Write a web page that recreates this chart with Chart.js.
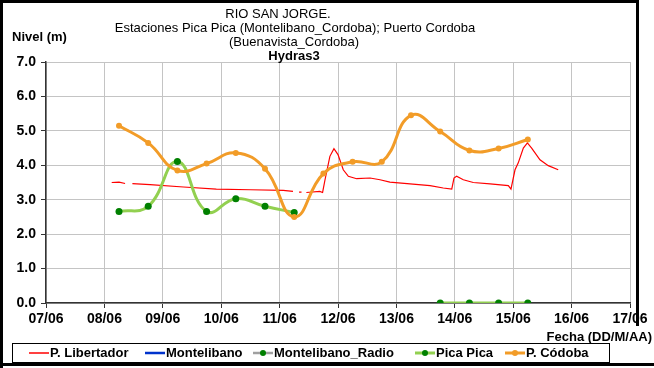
<!DOCTYPE html>
<html>
<head>
<meta charset="utf-8">
<script src="https://cdn.jsdelivr.net/npm/chart.js@4.4.1/dist/chart.umd.min.js"></script>
<style>
  html, body { margin: 0; padding: 0; background: #fff; }
  #wrap { width: 654px; height: 368px; }
</style>
</head>
<body>
<div id="wrap"><canvas id="chartCanvas" width="654" height="368"></canvas></div>
<script>
// Niveles del Rio San Jorge, fechas 'DD/MM HH:MM'
const dayLabels = ['07/06', '08/06', '09/06', '10/06', '11/06', '12/06', '13/06', '14/06', '15/06', '16/06', '17/06'];

// lecturas de 6:00 y 18:00
const dailyTimes = ['08/06 06:00', '08/06 18:00', '09/06 06:00', '09/06 18:00', '10/06 06:00',
  '10/06 18:00', '11/06 06:00', '11/06 18:00', '12/06 06:00', '12/06 18:00', '13/06 06:00',
  '13/06 18:00', '14/06 06:00', '14/06 18:00', '15/06 06:00'];
const cordobaLevels = [5.15, 4.65, 3.85, 4.05, 4.36, 3.90, 2.50, 3.76, 4.10, 4.10, 5.45, 4.98, 4.43, 4.49, 4.75];
const picaPicaLevels = [2.66, 2.81, 4.11, 2.66, 3.03, 2.81, 2.63, null, null, null, null, 0, 0, 0, 0];

// estacion automatica P. Libertador
const libertadorTimes = ['08/06 03:00', '08/06 06:00', '08/06 08:30', '08/06 10:00', '08/06 11:30',
  '08/06 18:45', '09/06 08:30', '09/06 22:00', '10/06 12:00', '11/06 01:30', '11/06 05:30',
  '11/06 07:00', '11/06 08:00', '11/06 09:00', '11/06 10:00', '11/06 11:00', '11/06 16:30',
  '11/06 17:40', '11/06 18:40', '11/06 20:40', '11/06 22:20', '12/06 00:00', '12/06 02:10',
  '12/06 04:15', '12/06 07:40', '12/06 13:10', '12/06 17:15', '12/06 21:20', '13/06 05:35',
  '13/06 13:50', '13/06 19:15', '13/06 22:45', '13/06 23:40', '14/06 00:45', '14/06 03:30',
  '14/06 07:35', '14/06 14:30', '14/06 22:00', '14/06 23:05', '15/06 00:45', '15/06 02:05',
  '15/06 04:10', '15/06 05:50', '15/06 07:35', '15/06 11:00', '15/06 14:25', '15/06 18:30'];
const libertadorLevels = [3.50, 3.51, 3.47, null, 3.47,
  3.44, 3.37, 3.31, 3.29, 3.27, 3.24,
  null, 3.22, 3.22, null, 3.21, 3.24,
  3.21, 3.58, 4.26, 4.48, 4.31, 3.87,
  3.68, 3.61, 3.63, 3.58, 3.51, 3.46,
  3.41, 3.34, 3.31, 3.63, 3.68, 3.58,
  3.50, 3.46, 3.41, 3.31, 3.87, 4.07,
  4.50, 4.65, 4.50, 4.16, 3.99, 3.87];

const yTicks = [0, 1, 2, 3, 4, 5, 6, 7];

// dias transcurridos desde 07/06 00:00
function toDays(s) {
  const [date, time] = s.split(' ');
  const [h, m] = time.split(':').map(Number);
  return Number(date.split('/')[0]) - 7 + (h + m / 60) / 24;
}

function points(times, levels) {
  return times.map((t, i) => ({ x: toDays(t), y: levels[i] }));
}

const FONT = 'Liberation Sans, Arial, sans-serif';

const decor = {
  id: 'decor',
  afterDraw(chart) {
    const ctx = chart.ctx;
    ctx.save();

    // marco exterior
    ctx.strokeStyle = '#000';
    ctx.lineWidth = 3;
    ctx.beginPath();
    ctx.moveTo(1.5, 368);
    ctx.lineTo(1.5, 1.5);
    ctx.lineTo(637.5, 1.5);
    ctx.lineTo(637.5, 326);
    ctx.moveTo(0, 364.5);
    ctx.lineTo(654, 364.5);
    ctx.stroke();

    // titulo
    ctx.fillStyle = '#000';
    ctx.textAlign = 'center';
    ctx.textBaseline = 'middle';
    ctx.font = '13px ' + FONT;
    ctx.fillText('RIO SAN JORGE.', 278, 14);
    ctx.fillText('Estaciones Pica Pica (Montelibano_Cordoba); Puerto Cordoba', 295, 28);
    ctx.fillText('(Buenavista_Cordoba)', 294, 42);
    ctx.font = 'bold 13px ' + FONT;
    ctx.fillText('Hydras3', 294, 56);

    // titulos de ejes
    ctx.textAlign = 'left';
    ctx.fillText('Nivel (m)', 12, 37);
    ctx.textAlign = 'right';
    ctx.fillText('Fecha (DD/M/AA)', 652, 337);

    // leyenda
    ctx.lineWidth = 1;
    ctx.strokeRect(12.5, 343.5, 597, 19);
    const starts = [29, 145, 253, 415, 505];
    ctx.textAlign = 'left';
    chart.data.datasets.forEach((ds, i) => {
      const x = starts[i], y = 353;
      ctx.strokeStyle = ds.borderColor;
      ctx.lineWidth = ds.legendWidth;
      ctx.beginPath();
      ctx.moveTo(x, y);
      ctx.lineTo(x + 20, y);
      ctx.stroke();
      if (ds.pointRadius > 0) {
        ctx.fillStyle = ds.pointBackgroundColor;
        ctx.beginPath();
        ctx.arc(x + 10, y, 3, 0, Math.PI * 2);
        ctx.fill();
      }
      ctx.fillStyle = '#000';
      ctx.fillText(ds.label, x + 21, y + 0.5);
    });
    ctx.restore();
  }
};

new Chart(document.getElementById('chartCanvas').getContext('2d'), {
  type: 'line',
  data: {
    datasets: [
      {
        label: 'P. Libertador',
        data: points(libertadorTimes, libertadorLevels),
        borderColor: '#ff0000',
        borderWidth: 1.2,
        legendWidth: 1.5,
        pointRadius: 0,
        tension: 0,
        spanGaps: false,
        order: 2
      },
      {
        label: 'Montelibano',
        data: [],
        borderColor: '#0033cc',
        legendWidth: 2.5,
        pointRadius: 0,
        order: 4
      },
      {
        label: 'Montelibano_Radio',
        data: [],
        borderColor: '#a0a0a0',
        pointBackgroundColor: '#008000',
        legendWidth: 2.5,
        pointRadius: 3,
        order: 3
      },
      {
        label: 'Pica Pica',
        data: points(dailyTimes, picaPicaLevels),
        borderColor: '#92d050',
        borderWidth: 3,
        legendWidth: 3,
        pointRadius: 3.5,
        pointBackgroundColor: '#008000',
        pointBorderColor: '#008000',
        pointBorderWidth: 0,
        tension: 0.45,
        spanGaps: false,
        order: 1
      },
      {
        label: 'P. Códoba',
        data: points(dailyTimes, cordobaLevels),
        borderColor: '#f29c28',
        borderWidth: 3,
        legendWidth: 3,
        pointRadius: 3,
        pointBackgroundColor: '#f29c28',
        pointBorderColor: '#f29c28',
        pointBorderWidth: 0,
        tension: 0.45,
        order: 0
      }
    ]
  },
  options: {
    responsive: false,
    animation: false,
    layout: { padding: { top: 62, right: 24, bottom: 0, left: 0 } },
    plugins: {
      legend: { display: false },
      title: { display: false },
      tooltip: { enabled: false }
    },
    scales: {
      x: {
        type: 'linear',
        min: 0,
        max: dayLabels.length - 1,
        afterFit: (scale) => { scale.height = 65; },
        border: { color: '#333', width: 1.5 },
        grid: { color: '#c4c4c4', tickColor: '#333', tickLength: 5 },
        ticks: {
          stepSize: 1,
          padding: 3,
          color: '#000',
          font: { family: FONT, weight: 'bold', size: 14 },
          callback: (v) => dayLabels[v] ?? ''
        }
      },
      y: {
        min: yTicks[0],
        max: yTicks[yTicks.length - 1],
        afterFit: (scale) => { scale.width = 46; },
        border: { color: '#333', width: 1.5 },
        grid: {
          color: '#c4c4c4',
          tickLength: 5,
          tickColor: (c) => yTicks.includes(c.tick.value) ? '#333' : 'rgba(0,0,0,0)'
        },
        ticks: {
          stepSize: 0.5,
          padding: 5,
          color: '#000',
          font: { family: FONT, weight: 'bold', size: 14 },
          callback: (v) => yTicks.includes(v) ? v.toFixed(1) : ''
        }
      }
    }
  },
  plugins: [decor]
});
</script>
</body>
</html>
